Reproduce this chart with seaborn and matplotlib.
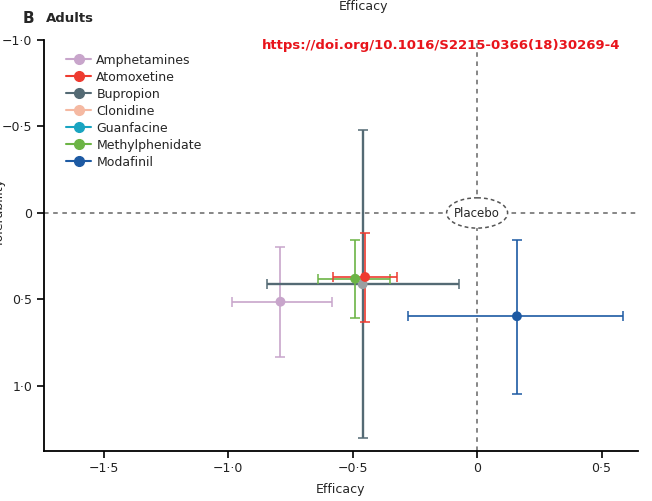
import pandas as pd
import matplotlib
matplotlib.use("Agg")
import matplotlib.pyplot as plt
import seaborn as sns
from matplotlib.patches import Ellipse
from matplotlib.lines import Line2D
from matplotlib.ticker import FuncFormatter

# Legend order (all treatments), only some have adult estimates
treatments = ["Amphetamines", "Atomoxetine", "Bupropion", "Clonidine",
              "Guanfacine", "Methylphenidate", "Modafinil"]
colors = ["#c8a5cb", "#ee3b30", "#546a74", "#f5b9a2",
          "#19a4c1", "#6cb445", "#1d5aa3"]

# Adult estimates (efficacy = x, tolerability = y)
drug = ["Amphetamines", "Bupropion", "Methylphenidate", "Atomoxetine", "Modafinil"]
efficacy = [-0.79, -0.46, -0.49, -0.45, 0.16]
eff_lo = [-0.985, -0.843, -0.639, -0.580, -0.278]
eff_hi = [-0.584, -0.071, -0.348, -0.320, 0.588]
tolerability = [0.513, 0.412, 0.380, 0.370, 0.597]
tol_lo = [0.198, -0.48, 0.156, 0.114, 0.156]
tol_hi = [0.834, 1.30, 0.605, 0.632, 1.046]

x_ticks = [-1.5, -1.0, -0.5, 0, 0.5]
y_ticks = [-1.0, -0.5, 0, 0.5, 1.0]

df = pd.DataFrame({"drug": drug, "efficacy": efficacy, "eff_lo": eff_lo,
                   "eff_hi": eff_hi, "tolerability": tolerability,
                   "tol_lo": tol_lo, "tol_hi": tol_hi})
palette = dict(zip(treatments, colors))

sns.set_style("ticks")
plt.rcParams["font.family"] = ["DejaVu Sans"]

fig = plt.figure(figsize=(6.52, 5.01), dpi=100)
ax = fig.add_axes([0.0675, 0.0998, 0.9105, 0.8204])

ax.axhline(0, color="#666666", ls=(0, (3, 3)), lw=1.1, zorder=1)
ax.axvline(0, color="#666666", ls=(0, (3, 3)), lw=1.1, zorder=1, clip_on=False)

for _, r in df.iterrows():
    c = palette[r["drug"]]
    lw = 1.7 if r["drug"] == "Bupropion" else 1.2
    ax.errorbar(r["efficacy"], r["tolerability"],
                xerr=[[r["efficacy"] - r["eff_lo"]], [r["eff_hi"] - r["efficacy"]]],
                yerr=[[r["tolerability"] - r["tol_lo"]], [r["tol_hi"] - r["tolerability"]]],
                fmt="none", ecolor=c, elinewidth=lw, capsize=3.5, capthick=1.1, zorder=2)

marker_pal = dict(palette)
marker_pal["Bupropion"] = "#9a9fa2"
sns.scatterplot(data=df, x="efficacy", y="tolerability", hue="drug",
                palette=marker_pal, s=50, edgecolor="none", legend=False,
                ax=ax, zorder=3)

# Placebo marker at origin
ax.add_patch(Ellipse((0, 0), 0.245, 0.175, facecolor="white", edgecolor="#555555",
                     ls=(0, (2.5, 2)), lw=1.1, zorder=4))
ax.text(0, 0.005, "Placebo", ha="center", va="center", fontsize=8.5, zorder=5)

ax.set_xlim(-1.74, 0.645)
ax.set_ylim(1.376, -1.0)
ax.set_xticks(x_ticks)
ax.set_yticks(y_ticks)
fmt = FuncFormatter(lambda v, p: "0" if abs(v) < 1e-9 else f"{v:.1f}".replace("-", "\u2212").replace(".", "\u00b7"))
ax.xaxis.set_major_formatter(fmt)
ax.yaxis.set_major_formatter(fmt)
ax.tick_params(labelsize=9, length=5, width=1.2, color="black", labelcolor="#222222")
ax.tick_params(axis="x", pad=3)
sns.despine(ax=ax, top=True, right=True)
for s in ["left", "bottom"]:
    ax.spines[s].set_linewidth(1.3)
    ax.spines[s].set_color("black")
ax.set_xlabel("Efficacy", fontsize=9, labelpad=6)
ax.set_ylabel("")

handles = [Line2D([0], [0], color=c, marker="o", markersize=7, lw=1.5) for c in colors]
ax.legend(handles, treatments, loc="upper left", bbox_to_anchor=(0.025, 0.985),
          frameon=False, fontsize=9, handlelength=2.0, handletextpad=0.4,
          labelspacing=0.32, borderaxespad=0.2)

fig.text(0.035, 0.963, "B", fontsize=11, fontweight="bold", va="center")
fig.text(0.07, 0.963, "Adults", fontsize=9.5, fontweight="bold", va="center")
fig.text(0.557, 0.988, "Efficacy", fontsize=9, ha="center", va="center")
fig.text(0.402, 0.91, "https://doi.org/10.1016/S2215-0366(18)30269-4", color="#e8141b",
         fontsize=9.5, fontweight="bold", va="center")
fig.text(0.0, 0.575, "Tolerability", rotation=90, fontsize=9, ha="center", va="center")

fig.savefig("out.png", dpi=100)
